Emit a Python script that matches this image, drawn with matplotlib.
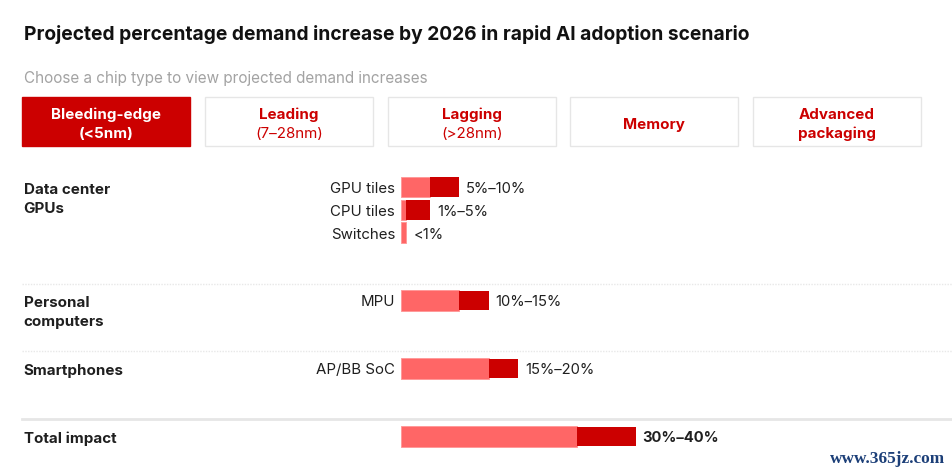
"""Projected demand increase by chip type, rapid AI adoption scenario."""

import matplotlib

matplotlib.use("Agg")

import matplotlib.pyplot as plt
from matplotlib.patches import Rectangle

WIDTH, HEIGHT = 952, 474
RED = "#cc0000"
LIGHT_RED = "#ff6666"
EDGE = "#ff9a9a"
INK = "#1f1f1f"

plt.rcParams["font.family"] = ["Inter", "DejaVu Sans"]

# data
bar_labels = ["GPU tiles", "CPU tiles", "Switches", "MPU", "AP/BB SoC", ""]
range_low = [5, 1, 1, 10, 15, 30]
range_high = [10, 5, 1, 15, 20, 40]
range_text = ["5%–10%", "1%–5%", "<1%", "10%–15%", "15%–20%", "30%–40%"]
group_labels = ["Data center\nGPUs", "Personal\ncomputers", "Smartphones", "Total impact"]
tab_top = ["Bleeding-edge", "Leading", "Lagging", "Memory", "Advanced"]
tab_bottom = ["(<5nm)", "(7–28nm)", "(>28nm)", "", "packaging"]

# layout, in pixels from the top left
bar_y = [187, 210, 232.7, 300.3, 368.5, 436.3]
group_y = [199.5, 312.5, 371.5, 438.5]
tab_x = [22, 205, 388, 570, 753]
tab_w, tab_y, tab_h = 168, 97, 49
bar_h = 20.6
px_per_pct = 5.875
bar_left = 400.6

fig = plt.figure(figsize=(WIDTH / 100, HEIGHT / 100), dpi=100, facecolor="white")

# page layer uses pixel coordinates
page = fig.add_axes([0, 0, 1, 1])
page.set_xlim(0, WIDTH)
page.set_ylim(HEIGHT, 0)
page.axis("off")

page.text(24, 34.2, "Projected percentage demand increase by 2026 in rapid AI adoption scenario",
          fontsize=13.85, fontweight="bold", color="#111111", va="center")
page.text(24, 78.5, "Choose a chip type to view projected demand increases",
          fontsize=11, color="#a3a3a3", va="center")

for i, x in enumerate(tab_x):
    active = i == 0
    page.add_patch(Rectangle((x, tab_y), tab_w, tab_h, facecolor=RED if active else "white",
                             edgecolor=RED if active else "#e6e6e6", linewidth=1))
    colour = "white" if active else RED
    cx = x + tab_w / 2
    if tab_bottom[i]:
        page.text(cx, 114.5, tab_top[i], fontsize=10.9, fontweight="bold", color=colour,
                  ha="center", va="center")
        page.text(cx, 133.5, tab_bottom[i], fontsize=10.9, ha="center", va="center", color=colour,
                  fontweight="bold" if active or i == 4 else "normal")
    else:
        page.text(cx, 124.5, tab_top[i], fontsize=10.9, fontweight="bold", color=colour,
                  ha="center", va="center")

for y in [284, 351]:
    page.plot([22, WIDTH], [y, y], color="#e8e8e8", linewidth=1, linestyle=(0, (1, 1)))
page.plot([22, WIDTH], [419.3, 419.3], color="#e6e6e6", linewidth=2)

for label, y in zip(group_labels, group_y):
    page.text(23.6, y, label, fontsize=10.9, fontweight="bold", color=INK, va="center",
              linespacing=1.4)

page.text(945, 459, "www.365jz.com", fontsize=12.4, fontweight="bold", family="Liberation Serif",
          color="#1c3f78", ha="right", va="center")

# bars share the page's vertical scale, horizontal axis is in percent
bars = fig.add_axes([0, 0, 1, 1], facecolor="none")
bars.set_xlim(-bar_left / px_per_pct, (WIDTH - bar_left) / px_per_pct)
bars.set_ylim(HEIGHT, 0)
bars.axis("off")

for i, y in enumerate(bar_y):
    low, high = range_low[i], range_high[i]
    bars.barh(y, low, height=bar_h, color=LIGHT_RED, edgecolor=EDGE, linewidth=0.7)
    if high > low:
        bars.barh(y, high - low, left=low, height=bar_h - 1, color=RED, linewidth=0)
    is_total = i == len(bar_y) - 1
    bars.annotate(range_text[i], (high, y), xytext=(5, -4.2), textcoords="offset points",
                  fontsize=10.6, color=INK, va="baseline",
                  fontweight="bold" if is_total else "normal")
    bars.annotate(bar_labels[i], (0, y), xytext=(-4, -4.2), textcoords="offset points",
                  fontsize=10.8, color=INK, ha="right", va="baseline")

fig.savefig("out.png", dpi=100)
